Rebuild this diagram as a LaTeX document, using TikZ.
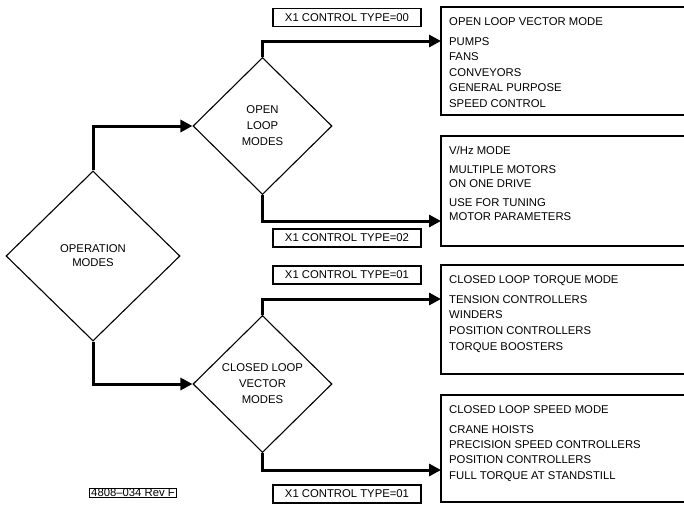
\documentclass[tikz,border=0pt]{standalone}
\usepackage{fontspec}
\setmainfont{Liberation Sans}
\usetikzlibrary{shapes.geometric,arrows.meta}
\begin{document}
\begin{tikzpicture}[x=1pt,y=-1pt,
  txt/.style={font=\fontsize{11.3}{14}\selectfont},
  dia/.style={draw,line width=1.1pt,diamond,inner sep=0pt},
  flow/.style={line width=3pt,-{Triangle[length=12pt,width=12pt]}},
  infobox/.style={draw,line width=1.4pt},
  lblbox/.style={draw,line width=1.2pt,minimum width=148pt,minimum height=18pt,inner sep=0pt,font=\fontsize{11.3}{14}\selectfont},
  item/.style={anchor=base west,inner sep=0pt,font=\fontsize{11.3}{14}\selectfont}]
\useasboundingbox (0,0) rectangle (684,504);
\clip (0,0) rectangle (684,504);
\fill[white] (0,0) rectangle (684,504);
% diamonds
\node[dia,minimum width=174pt,minimum height=170pt] (op) at (93,256) {};
\node[txt,align=center] at (93,256) {OPERATION\\MODES};
\node[dia,minimum width=139pt,minimum height=137pt] (ol) at (262.5,126) {};
\node[txt,align=center] at (262.5,126) {OPEN\\[2pt]LOOP\\[2pt]MODES};
\node[dia,minimum width=139pt,minimum height=137pt] (cl) at (262.5,384) {};
\node[txt,align=center] at (262.5,384) {CLOSED LOOP\\[2pt]VECTOR\\[2pt]MODES};
% info boxes
\draw[infobox] (700,7) -- (441,7) coordinate (b1) -- (441,115) -- (700,115);
\draw[infobox] (700,136) -- (441,136) coordinate (b2) -- (441,246) -- (700,246);
\draw[infobox] (700,265) -- (441,265) coordinate (b3) -- (441,374) -- (700,374);
\draw[infobox] (700,395) -- (441,395) coordinate (b4) -- (441,502) -- (700,502);
\coordinate (t1) at (441,41);
\coordinate (t2) at (441,221);
\coordinate (t3) at (441,299);
\coordinate (t4) at (441,470);
% texts box 1
\node[item] (a1) at (449,25.5) {OPEN LOOP VECTOR MODE};
\node[item] (a2) at (449,45) {PUMPS};
\node[item] (a3) at (449,60.5) {FANS};
\node[item] (a4) at (449,76) {CONVEYORS};
\node[item] (a5) at (449,91.5) {GENERAL PURPOSE};
\node[item] (a6) at (449,107) {SPEED CONTROL};
% box 2
\node[item] (c1) at (449,154) {V/Hz MODE};
\node[item] (c2) at (449,173) {MULTIPLE MOTORS};
\node[item] (c3) at (449,187) {ON ONE DRIVE};
\node[item] (c4) at (449,206) {USE FOR TUNING};
\node[item] (c5) at (449,220) {MOTOR PARAMETERS};
% box 3
\node[item] (d1) at (449,283) {CLOSED LOOP TORQUE MODE};
\node[item] (d2) at (449,303) {TENSION CONTROLLERS};
\node[item] (d3) at (449,318.7) {WINDERS};
\node[item] (d4) at (449,334.4) {POSITION CONTROLLERS};
\node[item] (d5) at (449,350) {TORQUE BOOSTERS};
% box 4
\node[item] (e1) at (449,413) {CLOSED LOOP SPEED MODE};
\node[item] (e2) at (449,433) {CRANE HOISTS};
\node[item] (e3) at (449,448) {PRECISION SPEED CONTROLLERS};
\node[item] (e4) at (449,463.5) {POSITION CONTROLLERS};
\node[item] (e5) at (449,479) {FULL TORQUE AT STANDSTILL};
% label boxes
\node[lblbox] (l1) at (347,17.5) {X1 CONTROL TYPE=00};
\node[lblbox] (l2) at (347,238) {X1 CONTROL TYPE=02};
\node[lblbox] (l3) at (347,275) {X1 CONTROL TYPE=01};
\node[lblbox] (l4) at (347,494) {X1 CONTROL TYPE=01};
\node[draw,line width=0.6pt,inner xsep=1.5pt,inner ysep=0.6pt,font=\fontsize{11.3}{13}\selectfont] (rev) at (133,492.5) {4808--034 Rev F};
% connectors
\draw[flow] (op.north) |- (ol.west);
\draw[flow] (op.south) |- (cl.west);
\draw[flow] (ol.north) |- (t1);
\draw[flow] (ol.south) |- (t2);
\draw[flow] (cl.north) |- (t3);
\draw[flow] (cl.south) |- (t4);
\end{tikzpicture}
\end{document}
